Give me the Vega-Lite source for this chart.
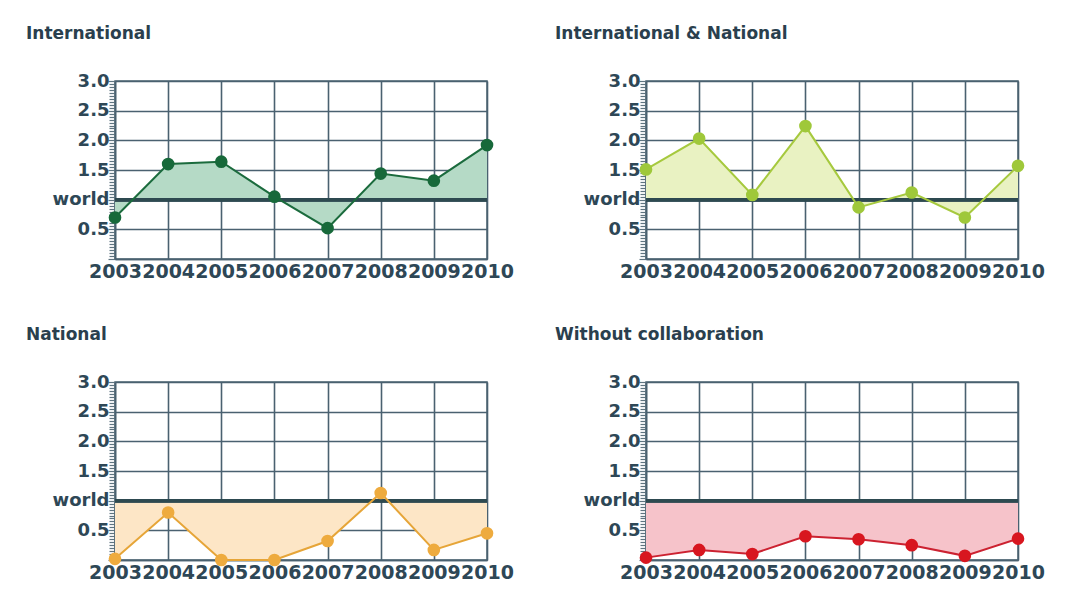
{
  "$schema": "https://vega.github.io/schema/vega-lite/v6.json",
  "background": "white",
  "padding": {"left": 25, "top": 24, "right": 5, "bottom": 5},
  "config": {
    "view": {"stroke": "#4e6572", "strokeWidth": 1.5},
    "title": {"anchor": "start", "frame": "group", "offset": 29, "font": "DejaVu Sans", "fontSize": 17, "fontWeight": "bold", "color": "#2a3f4e"}
  },
  "datasets": {
    "d": [
      {"series": "International", "year": 2003, "value": 0.70},
      {"series": "International", "year": 2004, "value": 1.60},
      {"series": "International", "year": 2005, "value": 1.64},
      {"series": "International", "year": 2006, "value": 1.05},
      {"series": "International", "year": 2007, "value": 0.52},
      {"series": "International", "year": 2008, "value": 1.44},
      {"series": "International", "year": 2009, "value": 1.32},
      {"series": "International", "year": 2010, "value": 1.92},
      {"series": "IntNat", "year": 2003, "value": 1.51},
      {"series": "IntNat", "year": 2004, "value": 2.03},
      {"series": "IntNat", "year": 2005, "value": 1.08},
      {"series": "IntNat", "year": 2006, "value": 2.24},
      {"series": "IntNat", "year": 2007, "value": 0.87},
      {"series": "IntNat", "year": 2008, "value": 1.12},
      {"series": "IntNat", "year": 2009, "value": 0.70},
      {"series": "IntNat", "year": 2010, "value": 1.57},
      {"series": "National", "year": 2003, "value": 0.02},
      {"series": "National", "year": 2004, "value": 0.80},
      {"series": "National", "year": 2005, "value": 0.0},
      {"series": "National", "year": 2006, "value": 0.0},
      {"series": "National", "year": 2007, "value": 0.32},
      {"series": "National", "year": 2008, "value": 1.13},
      {"series": "National", "year": 2009, "value": 0.17},
      {"series": "National", "year": 2010, "value": 0.45},
      {"series": "Without", "year": 2003, "value": 0.04},
      {"series": "Without", "year": 2004, "value": 0.17},
      {"series": "Without", "year": 2005, "value": 0.10},
      {"series": "Without", "year": 2006, "value": 0.40},
      {"series": "Without", "year": 2007, "value": 0.35},
      {"series": "Without", "year": 2008, "value": 0.25},
      {"series": "Without", "year": 2009, "value": 0.07},
      {"series": "Without", "year": 2010, "value": 0.36}
    ]
  },
  "data": {"name": "d"},
  "columns": 2,
  "bounds": "flush",
  "spacing": {"row": 123, "column": 159},
  "concat": [
    {
      "title": {"text": "International", "dx": -89},
      "width": 372, "height": 178,
      "transform": [{"filter": "datum.series === 'International'"}],
      "encoding": {
        "x": {"field": "year", "type": "quantitative", "scale": {"domain": [2003, 2010], "nice": false, "zero": false},
              "axis": {"values": [2003, 2004, 2005, 2006, 2007, 2008, 2009, 2010], "format": "d", "title": null, "grid": true, "gridColor": "#4a6170", "gridWidth": 1.6, "ticks": false, "domainColor": "#4a6170", "domainWidth": 1.6, "labelFont": "DejaVu Sans", "labelFontSize": 19, "labelFontWeight": "bold", "labelColor": "#2e4756", "labelPadding": 3, "labelOverlap": false, "labelBound": false, "labelFlush": false}},
        "y": {"field": "value", "type": "quantitative", "scale": {"domain": [0, 3], "nice": false},
              "axis": {"values": [0,0.05,0.1,0.15,0.2,0.25,0.3,0.35,0.4,0.45,0.5,0.55,0.6,0.65,0.7,0.75,0.8,0.85,0.9,0.95,1,1.05,1.1,1.15,1.2,1.25,1.3,1.35,1.4,1.45,1.5,1.55,1.6,1.65,1.7,1.75,1.8,1.85,1.9,1.95,2,2.05,2.1,2.15,2.2,2.25,2.3,2.35,2.4,2.45,2.5,2.55,2.6,2.65,2.7,2.75,2.8,2.85,2.9,2.95,3],
                       "labelExpr": "round(datum.value*20)==20 ? 'world' : ((round(datum.value*20)%10==0 && round(datum.value*20)>0) ? format(datum.value, '.1f') : '')",
                       "title": null, "grid": true, "gridColor": "#4a6170", "gridWidth": 1.6,
                       "gridOpacity": {"condition": {"test": "round(datum.value*20)%10==0", "value": 1}, "value": 0},
                       "tickSize": {"condition": {"test": "round(datum.value*20)%10==0", "value": 7}, "value": 6},
                       "tickColor": "#5f7480", "tickWidth": 1.2, "domainColor": "#4a6170", "domainWidth": 1.6,
                       "labelFont": "DejaVu Sans", "labelFontSize": 18, "labelFontWeight": "bold", "labelColor": "#2e4756", "labelPadding": -1, "labelOverlap": false, "labelBound": false, "labelFlush": false}}
      },
      "layer": [
        {"mark": {"type": "area", "color": "#b5dac6", "opacity": 1}, "encoding": {"y2": {"datum": 1}}},
        {"mark": {"type": "rule", "color": "#2e4a50", "strokeWidth": 3}, "encoding": {"y": {"datum": 1, "type": "quantitative"}, "x": {"datum": 2003, "type": "quantitative"}, "x2": {"datum": 2010}}},
        {"mark": {"type": "line", "color": "#1b6b3d", "strokeWidth": 2}, "encoding": {}},
        {"mark": {"type": "point", "filled": true, "size": 160, "color": "#17693a", "opacity": 1}, "encoding": {}}
      ]
    },
    {
      "title": {"text": "International & National", "dx": -91},
      "width": 372, "height": 178,
      "transform": [{"filter": "datum.series === 'IntNat'"}],
      "encoding": {
        "x": {"field": "year", "type": "quantitative", "scale": {"domain": [2003, 2010], "nice": false, "zero": false},
              "axis": {"values": [2003, 2004, 2005, 2006, 2007, 2008, 2009, 2010], "format": "d", "title": null, "grid": true, "gridColor": "#4a6170", "gridWidth": 1.6, "ticks": false, "domainColor": "#4a6170", "domainWidth": 1.6, "labelFont": "DejaVu Sans", "labelFontSize": 19, "labelFontWeight": "bold", "labelColor": "#2e4756", "labelPadding": 3, "labelOverlap": false, "labelBound": false, "labelFlush": false}},
        "y": {"field": "value", "type": "quantitative", "scale": {"domain": [0, 3], "nice": false},
              "axis": {"values": [0,0.05,0.1,0.15,0.2,0.25,0.3,0.35,0.4,0.45,0.5,0.55,0.6,0.65,0.7,0.75,0.8,0.85,0.9,0.95,1,1.05,1.1,1.15,1.2,1.25,1.3,1.35,1.4,1.45,1.5,1.55,1.6,1.65,1.7,1.75,1.8,1.85,1.9,1.95,2,2.05,2.1,2.15,2.2,2.25,2.3,2.35,2.4,2.45,2.5,2.55,2.6,2.65,2.7,2.75,2.8,2.85,2.9,2.95,3],
                       "labelExpr": "round(datum.value*20)==20 ? 'world' : ((round(datum.value*20)%10==0 && round(datum.value*20)>0) ? format(datum.value, '.1f') : '')",
                       "title": null, "grid": true, "gridColor": "#4a6170", "gridWidth": 1.6,
                       "gridOpacity": {"condition": {"test": "round(datum.value*20)%10==0", "value": 1}, "value": 0},
                       "tickSize": {"condition": {"test": "round(datum.value*20)%10==0", "value": 7}, "value": 6},
                       "tickColor": "#5f7480", "tickWidth": 1.2, "domainColor": "#4a6170", "domainWidth": 1.6,
                       "labelFont": "DejaVu Sans", "labelFontSize": 18, "labelFontWeight": "bold", "labelColor": "#2e4756", "labelPadding": -1, "labelOverlap": false, "labelBound": false, "labelFlush": false}}
      },
      "layer": [
        {"mark": {"type": "area", "color": "#e9f2c2", "opacity": 1}, "encoding": {"y2": {"datum": 1}}},
        {"mark": {"type": "rule", "color": "#2e4a50", "strokeWidth": 3}, "encoding": {"y": {"datum": 1, "type": "quantitative"}, "x": {"datum": 2003, "type": "quantitative"}, "x2": {"datum": 2010}}},
        {"mark": {"type": "line", "color": "#a6c93e", "strokeWidth": 2}, "encoding": {}},
        {"mark": {"type": "point", "filled": true, "size": 160, "color": "#9fc83a", "opacity": 1}, "encoding": {}}
      ]
    },
    {
      "title": {"text": "National", "dx": -89},
      "width": 372, "height": 178,
      "transform": [{"filter": "datum.series === 'National'"}],
      "encoding": {
        "x": {"field": "year", "type": "quantitative", "scale": {"domain": [2003, 2010], "nice": false, "zero": false},
              "axis": {"values": [2003, 2004, 2005, 2006, 2007, 2008, 2009, 2010], "format": "d", "title": null, "grid": true, "gridColor": "#4a6170", "gridWidth": 1.6, "ticks": false, "domainColor": "#4a6170", "domainWidth": 1.6, "labelFont": "DejaVu Sans", "labelFontSize": 19, "labelFontWeight": "bold", "labelColor": "#2e4756", "labelPadding": 3, "labelOverlap": false, "labelBound": false, "labelFlush": false}},
        "y": {"field": "value", "type": "quantitative", "scale": {"domain": [0, 3], "nice": false},
              "axis": {"values": [0,0.05,0.1,0.15,0.2,0.25,0.3,0.35,0.4,0.45,0.5,0.55,0.6,0.65,0.7,0.75,0.8,0.85,0.9,0.95,1,1.05,1.1,1.15,1.2,1.25,1.3,1.35,1.4,1.45,1.5,1.55,1.6,1.65,1.7,1.75,1.8,1.85,1.9,1.95,2,2.05,2.1,2.15,2.2,2.25,2.3,2.35,2.4,2.45,2.5,2.55,2.6,2.65,2.7,2.75,2.8,2.85,2.9,2.95,3],
                       "labelExpr": "round(datum.value*20)==20 ? 'world' : ((round(datum.value*20)%10==0 && round(datum.value*20)>0) ? format(datum.value, '.1f') : '')",
                       "title": null, "grid": true, "gridColor": "#4a6170", "gridWidth": 1.6,
                       "gridOpacity": {"condition": {"test": "round(datum.value*20)%10==0", "value": 1}, "value": 0},
                       "tickSize": {"condition": {"test": "round(datum.value*20)%10==0", "value": 7}, "value": 6},
                       "tickColor": "#5f7480", "tickWidth": 1.2, "domainColor": "#4a6170", "domainWidth": 1.6,
                       "labelFont": "DejaVu Sans", "labelFontSize": 18, "labelFontWeight": "bold", "labelColor": "#2e4756", "labelPadding": -1, "labelOverlap": false, "labelBound": false, "labelFlush": false}}
      },
      "layer": [
        {"mark": {"type": "area", "color": "#fde6c6", "opacity": 1}, "encoding": {"y2": {"datum": 1}}},
        {"mark": {"type": "rule", "color": "#2e4a50", "strokeWidth": 3}, "encoding": {"y": {"datum": 1, "type": "quantitative"}, "x": {"datum": 2003, "type": "quantitative"}, "x2": {"datum": 2010}}},
        {"mark": {"type": "line", "color": "#e6a538", "strokeWidth": 2}, "encoding": {}},
        {"mark": {"type": "point", "filled": true, "size": 160, "color": "#eeab3e", "opacity": 1}, "encoding": {}}
      ]
    },
    {
      "title": {"text": "Without collaboration", "dx": -91},
      "width": 372, "height": 178,
      "transform": [{"filter": "datum.series === 'Without'"}],
      "encoding": {
        "x": {"field": "year", "type": "quantitative", "scale": {"domain": [2003, 2010], "nice": false, "zero": false},
              "axis": {"values": [2003, 2004, 2005, 2006, 2007, 2008, 2009, 2010], "format": "d", "title": null, "grid": true, "gridColor": "#4a6170", "gridWidth": 1.6, "ticks": false, "domainColor": "#4a6170", "domainWidth": 1.6, "labelFont": "DejaVu Sans", "labelFontSize": 19, "labelFontWeight": "bold", "labelColor": "#2e4756", "labelPadding": 3, "labelOverlap": false, "labelBound": false, "labelFlush": false}},
        "y": {"field": "value", "type": "quantitative", "scale": {"domain": [0, 3], "nice": false},
              "axis": {"values": [0,0.05,0.1,0.15,0.2,0.25,0.3,0.35,0.4,0.45,0.5,0.55,0.6,0.65,0.7,0.75,0.8,0.85,0.9,0.95,1,1.05,1.1,1.15,1.2,1.25,1.3,1.35,1.4,1.45,1.5,1.55,1.6,1.65,1.7,1.75,1.8,1.85,1.9,1.95,2,2.05,2.1,2.15,2.2,2.25,2.3,2.35,2.4,2.45,2.5,2.55,2.6,2.65,2.7,2.75,2.8,2.85,2.9,2.95,3],
                       "labelExpr": "round(datum.value*20)==20 ? 'world' : ((round(datum.value*20)%10==0 && round(datum.value*20)>0) ? format(datum.value, '.1f') : '')",
                       "title": null, "grid": true, "gridColor": "#4a6170", "gridWidth": 1.6,
                       "gridOpacity": {"condition": {"test": "round(datum.value*20)%10==0", "value": 1}, "value": 0},
                       "tickSize": {"condition": {"test": "round(datum.value*20)%10==0", "value": 7}, "value": 6},
                       "tickColor": "#5f7480", "tickWidth": 1.2, "domainColor": "#4a6170", "domainWidth": 1.6,
                       "labelFont": "DejaVu Sans", "labelFontSize": 18, "labelFontWeight": "bold", "labelColor": "#2e4756", "labelPadding": -1, "labelOverlap": false, "labelBound": false, "labelFlush": false}}
      },
      "layer": [
        {"mark": {"type": "area", "color": "#f6c3ca", "opacity": 1}, "encoding": {"y2": {"datum": 1}}},
        {"mark": {"type": "rule", "color": "#2e4a50", "strokeWidth": 3}, "encoding": {"y": {"datum": 1, "type": "quantitative"}, "x": {"datum": 2003, "type": "quantitative"}, "x2": {"datum": 2010}}},
        {"mark": {"type": "line", "color": "#cc2231", "strokeWidth": 2}, "encoding": {}},
        {"mark": {"type": "point", "filled": true, "size": 160, "color": "#d8161f", "opacity": 1}, "encoding": {}}
      ]
    }
  ]
}
